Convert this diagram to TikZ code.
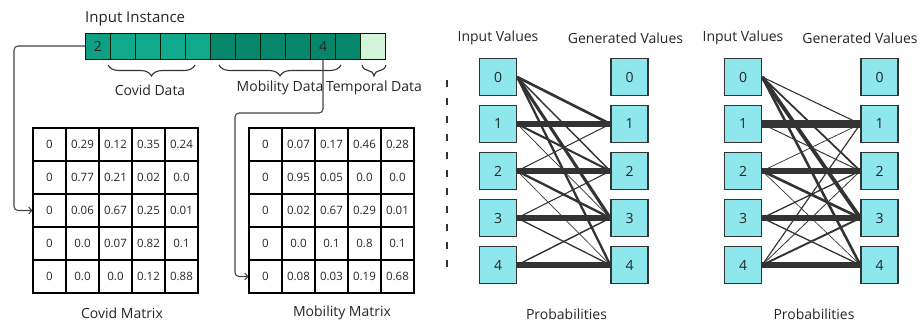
\documentclass[tikz,border=0pt]{standalone}
\usepackage{fontspec}
\setmainfont{Open Sans}
\usetikzlibrary{arrows.meta,decorations.pathreplacing,backgrounds}
\definecolor{covidA}{HTML}{0E9F84}
\definecolor{covidB}{HTML}{10A98B}
\definecolor{mobil}{HTML}{06866A}
\definecolor{tempo}{HTML}{D3F5DA}
\definecolor{boxfill}{HTML}{8DE7EC}
\definecolor{edgec}{HTML}{333333}
\definecolor{linec}{HTML}{444444}
\begin{document}
\begin{tikzpicture}[x=1pt,y=-1pt,
  barcell/.style={draw=black!80!green!60!black, line width=0.9pt, minimum width=25pt, minimum height=26pt, inner sep=0pt, font=\fontsize{14}{16}\selectfont, text=black!85},
  mcell/.style={draw=black, line width=1.1pt, minimum width=33pt, minimum height=33pt, inner sep=0pt, font=\fontsize{11.5}{13}\selectfont, text=black!85},
  pbox/.style={draw=edgec, line width=1.4pt, fill=boxfill, minimum width=37pt, minimum height=37pt, inner sep=0pt, font=\fontsize{14}{16}\selectfont, text=black!85},
  lbl/.style={font=\fontsize{14}{16}\selectfont, text=black!85, inner sep=0pt},
  conn/.style={draw=linec, line width=1.1pt, rounded corners=4pt, -{Straight Barb[length=3pt,width=7pt]}},
  brc/.style={draw=edgec, line width=1.1pt, decorate, decoration={brace,mirror,amplitude=11pt}}
]
\useasboundingbox (0,0) rectangle (923,324);

% input instance bar
\node[lbl, font=\fontsize{15}{17}\selectfont, anchor=west] (title) at (85,19) {Input Instance};
\foreach \i/\col/\t in {1/covidA/2,2/covidB/,3/covidB/,4/covidB/,5/covidB/,6/mobil/,7/mobil/,8/mobil/,9/mobil/,10/mobil/4,11/mobil/,12/tempo/}{
  \node[barcell, fill=\col] (b\i) at ({85.5+25*(\i-0.5)},46) {\t};
}

% braces
\draw[brc] (108,65) -- (195,65);
\draw[brc] (219,65) -- (341,65);
\draw[brc] (362,65) -- (386,65);
\node[lbl] (lcovid) at (150,90) {Covid Data};
\node[lbl] (lmob) at (280,88) {Mobility Data};
\node[lbl] (ltemp) at (374,88) {Temporal Data};

% covid matrix
\foreach [count=\i from 0] \row in {{0,0.29,0.12,0.35,0.24},{0,0.77,0.21,0.02,0.0},{0,0.06,0.67,0.25,0.01},{0,0.0,0.07,0.82,0.1},{0,0.0,0.0,0.12,0.88}}{
  \foreach [count=\j from 0] \v in \row {
    \node[mcell] (c-\i-\j) at ({49.5+33*\j},{144.5+33*\i}) {\v};
  }
}
\node[lbl] (lcm) at (122,313) {Covid Matrix};

% mobility matrix
\foreach [count=\i from 0] \row in {{0,0.07,0.17,0.46,0.28},{0,0.95,0.05,0.0,0.0},{0,0.02,0.67,0.29,0.01},{0,0.0,0.1,0.8,0.1},{0,0.08,0.03,0.19,0.68}}{
  \foreach [count=\j from 0] \v in \row {
    \node[mcell] (m-\i-\j) at ({265.5+33*\j},{144.5+33*\i}) {\v};
  }
}
\node[lbl] (lmm) at (342,313) {Mobility Matrix};

% connectors
\coordinate (k1) at (14,46);
\coordinate (k2) at (235,113);
\draw[conn] (b1.west) -- (k1) |- (c-2-0.west);
\draw[conn] (b10.south) |- (k2) |- (m-4-0.west);

% dashed separator
\draw[draw=edgec, line width=1.4pt, dash pattern=on 7pt off 11pt] (447,80) -- (447,274);

% probability panels
\foreach \k in {0,...,4}{
  \node[pbox] (pa-\k) at (498,{77+47*\k}) {\k};
  \node[pbox] (pg-\k) at (629.5,{77+47*\k}) {\k};
  \node[pbox] (qa-\k) at (743,{77+47*\k}) {\k};
  \node[pbox] (qg-\k) at (879.5,{77+47*\k}) {\k};
}
\node[lbl] (pl1) at (498,38) {Input Values};
\node[lbl] (pl2) at (625.5,38) {Generated Values};
\node[lbl] (pl3) at (566.5,314) {Probabilities};
\node[lbl] (ql1) at (743,38) {Input Values};
\node[lbl] (ql2) at (860,38) {Generated Values};
\node[lbl] (ql3) at (814,314) {Probabilities};

\begin{scope}[on background layer]
\foreach [count=\i from 0] \row in {{0,0.29,0.12,0.35,0.24},{0,0.77,0.21,0.02,0.0},{0,0.06,0.67,0.25,0.01},{0,0.0,0.07,0.82,0.1},{0,0.0,0.0,0.12,0.88}}{
  \foreach [count=\j from 0] \p in \row {
    \ifdim \p pt>0.001pt
      \draw[edgec, line width={0.6+7*\p}] (pa-\i.east) -- (pg-\j.west);
    \fi
  }
}
\foreach [count=\i from 0] \row in {{0,0.07,0.17,0.46,0.28},{0,0.95,0.05,0.0,0.0},{0,0.02,0.67,0.29,0.01},{0,0.0,0.1,0.8,0.1},{0,0.08,0.03,0.19,0.68}}{
  \foreach [count=\j from 0] \p in \row {
    \ifdim \p pt>0.001pt
      \draw[edgec, line width={0.6+7*\p}] (qa-\i.east) -- (qg-\j.west);
    \fi
  }
}
\end{scope}
\end{tikzpicture}
\end{document}
